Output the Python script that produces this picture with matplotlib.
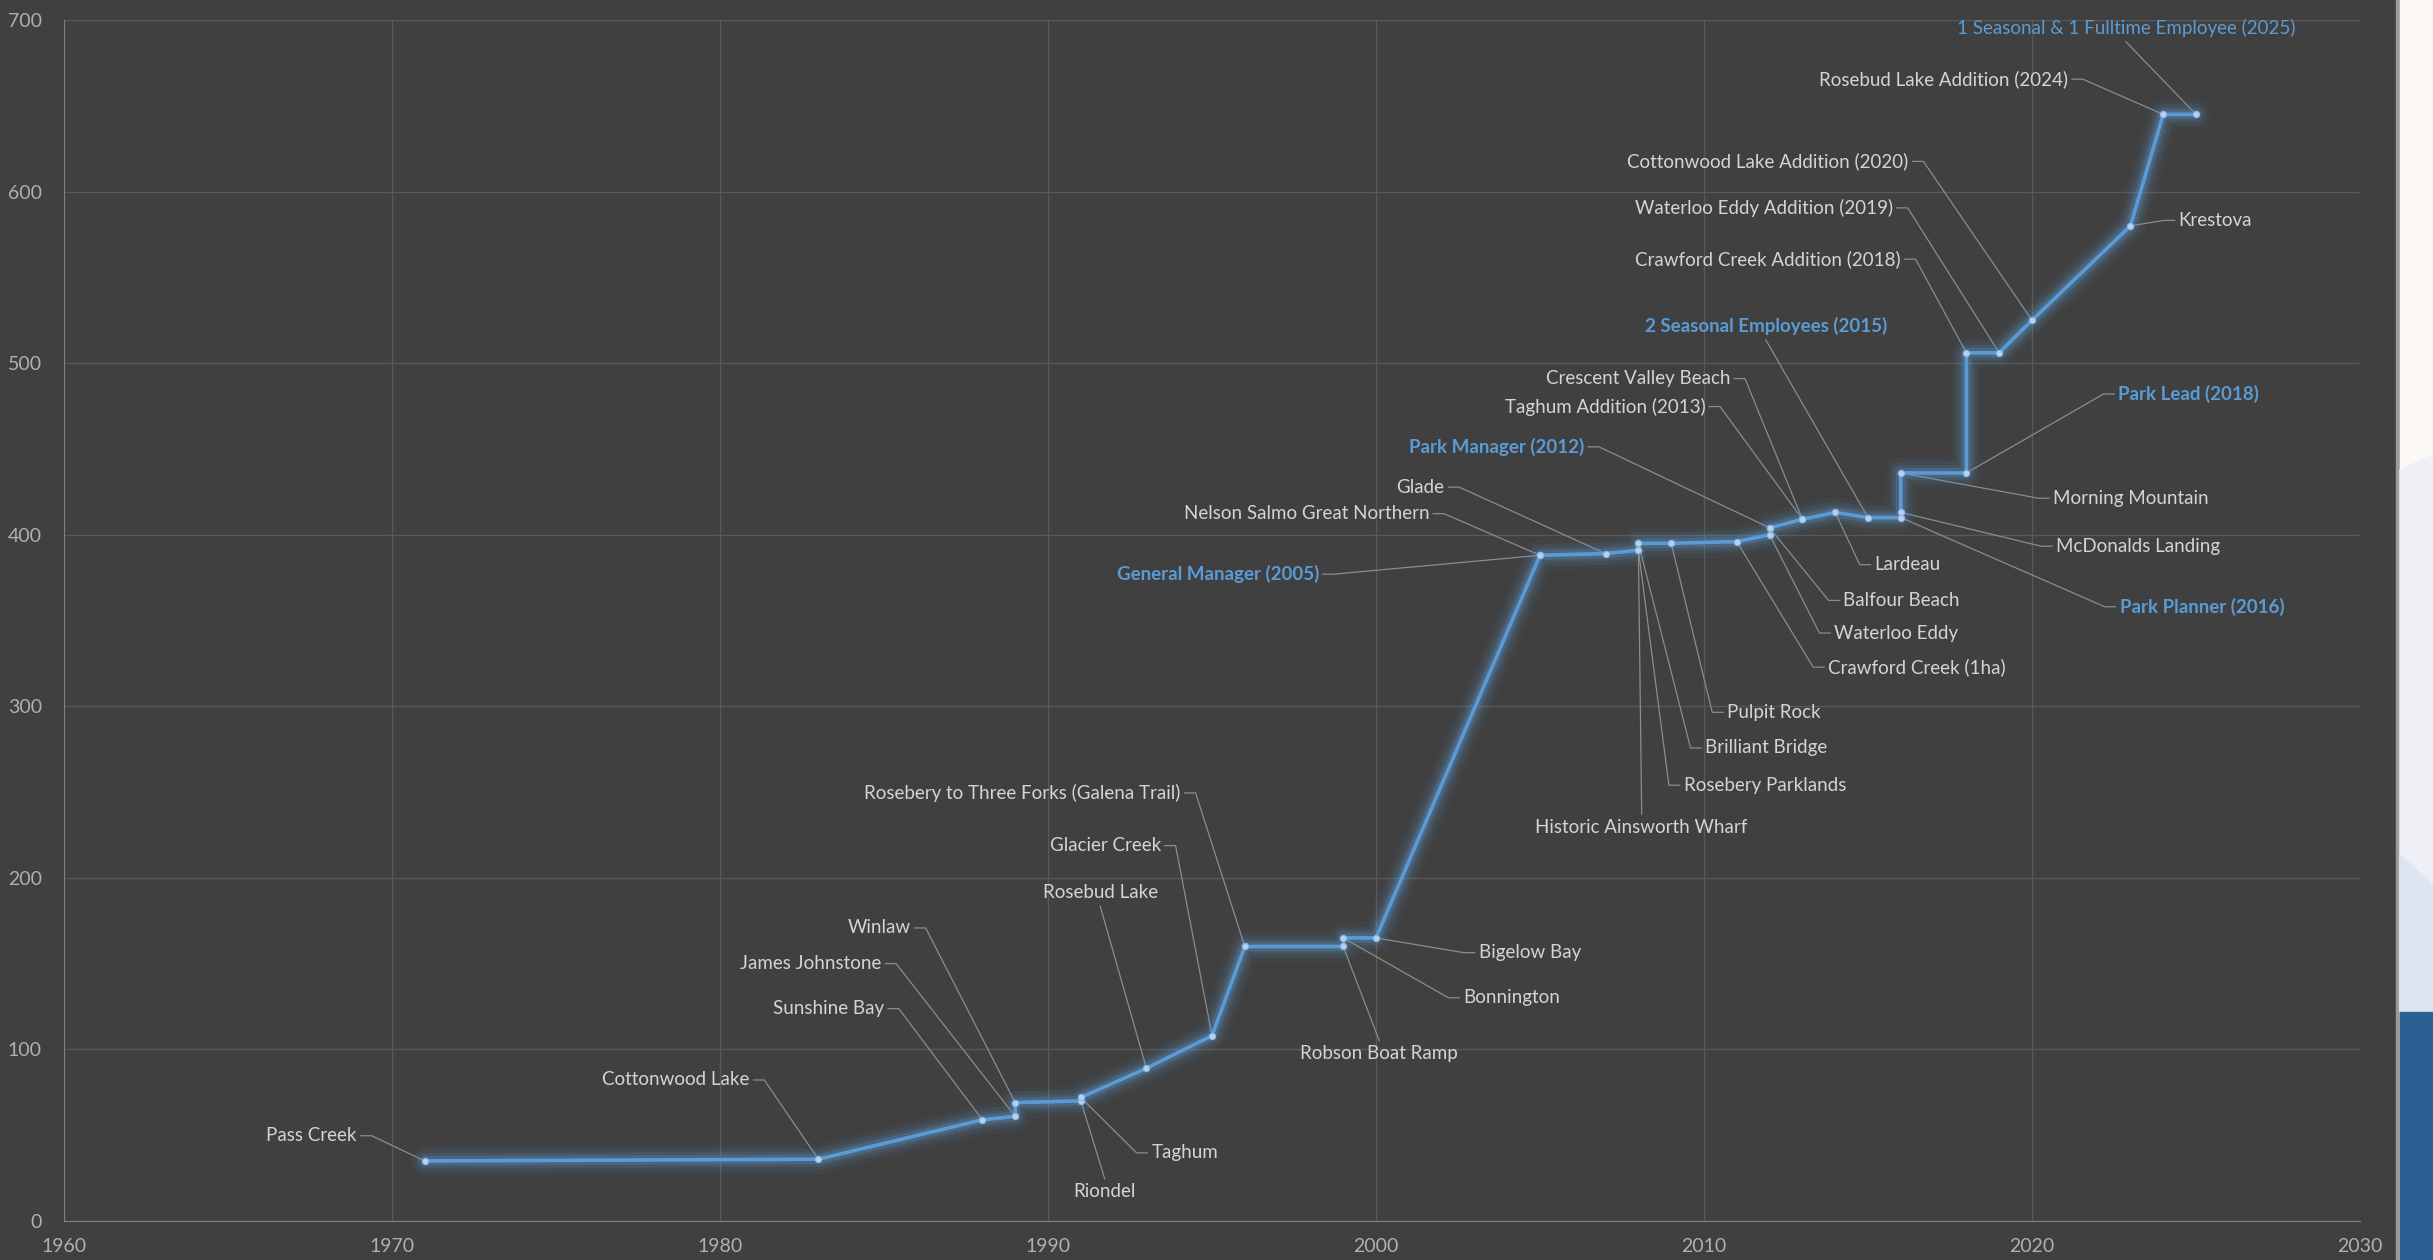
import matplotlib.pyplot as plt
from matplotlib.patches import Rectangle, Polygon

# Park additions and staff milestones (year, cumulative value)
years = [1971, 1983, 1988, 1989, 1989, 1991, 1991, 1993, 1995, 1996,
         1999, 1999, 2000, 2005, 2005, 2007, 2008, 2008, 2008, 2009,
         2011, 2012, 2012, 2012, 2013, 2013, 2014, 2015, 2016, 2016,
         2016, 2018, 2018, 2019, 2020, 2023, 2024, 2025]
values = [35, 36, 59, 61, 69, 70, 72, 89, 108, 160,
          160, 165, 165, 388, 388, 389, 391, 391, 395, 395,
          396, 400, 404, 404, 409, 409, 413, 410, 410, 413,
          436, 436, 506, 506, 525, 580, 645, 645]
labels = ["Pass Creek", "Cottonwood Lake", "Sunshine Bay", "James Johnstone", "Winlaw",
          "Riondel", "Taghum", "Rosebud Lake", "Glacier Creek",
          "Rosebery to Three Forks (Galena Trail)",
          "Robson Boat Ramp", "Bonnington", "Bigelow Bay", "General Manager (2005)",
          "Nelson Salmo Great Northern", "Glade", "Historic Ainsworth Wharf",
          "Rosebery Parklands", "Brilliant Bridge", "Pulpit Rock",
          "Crawford Creek (1ha)", "Waterloo Eddy", "Balfour Beach", "Park Manager (2012)",
          "Taghum Addition (2013)", "Crescent Valley Beach", "Lardeau",
          "2 Seasonal Employees (2015)", "Park Planner (2016)", "McDonalds Landing",
          "Morning Mountain", "Park Lead (2018)", "Crawford Creek Addition (2018)",
          "Waterloo Eddy Addition (2019)", "Cottonwood Lake Addition (2020)", "Krestova",
          "Rosebud Lake Addition (2024)", "1 Seasonal & 1 Fulltime Employee (2025)"]
staff = ["General Manager (2005)", "Park Manager (2012)", "2 Seasonal Employees (2015)",
         "Park Planner (2016)", "Park Lead (2018)", "1 Seasonal & 1 Fulltime Employee (2025)"]

# label placement (data coords) and side of the leader: L = text left of point, R = right, A = above, B = below
label_x = [1968.93, 1980.9, 1985.0, 1984.92, 1985.82, 1991.73, 1993.15, 1991.59, 1993.44, 1994.05,
           2000.1, 2002.66, 2003.13, 1998.26, 2001.62, 2002.09, 2008.1, 2009.38, 2010.04, 2010.7,
           2013.78, 2013.97, 2014.25, 2006.35, 2010.04, 2010.8, 2015.2, 2011.88, 2022.67, 2020.73,
           2020.64, 2022.63, 2016.0, 2015.76, 2016.24, 2024.47, 2021.1, 2022.86]
label_y = [49.7, 82.2, 123.8, 150.0, 170.8, 17.1, 39.7, 191.6, 218.8, 249.5,
           97.6, 130.1, 156.4, 377, 412.3, 427.7, 229.6, 254, 275.7, 296.5,
           322.8, 342.7, 361.7, 451.2, 474.7, 491, 382.5, 521.7, 358, 393.3,
           421.3, 482, 560.6, 590.5, 617.6, 583.2, 665.5, 695.4]
label_side = ["L", "L", "L", "L", "L", "B", "R", "A", "L", "L",
              "B", "R", "R", "L", "L", "L", "B", "R", "R", "R",
              "R", "R", "R", "L", "L", "L", "R", "A", "R", "R",
              "R", "R", "L", "L", "L", "R", "L", "A"]

x_ticks = [1960, 1970, 1980, 1990, 2000, 2010, 2020, 2030]
y_ticks = [0, 100, 200, 300, 400, 500, 600, 700]

bg = '#404040'
line_col = '#5B9BD5'
plt.rcParams['font.family'] = ['Lato', 'DejaVu Sans']

fig = plt.figure(figsize=(24.33, 12.6), dpi=100)
fig.patch.set_facecolor(bg)
ax = fig.add_axes([64 / 2433, 1 - 1221 / 1260, (2360 - 64) / 2433, (1221 - 20) / 1260])
ax.set_facecolor(bg)

# slide background strip on the right edge
W, H = 2433, 1260
fig.add_artist(Rectangle((2396 / W, 0), 4 / W, 1, transform=fig.transFigure, color='#9C9C9C', zorder=0))
fig.add_artist(Rectangle((2400 / W, 0), 33 / W, 1, transform=fig.transFigure, color='#FBF8F5', zorder=0))
fig.add_artist(Polygon([(2400 / W, 1 - 470 / H), (1, 1 - 455 / H), (1, 1 - 1012 / H), (2400 / W, 1 - 1012 / H)],
                       closed=True, transform=fig.transFigure, color='#EEF0F5', zorder=0))
fig.add_artist(Polygon([(2400 / W, 1 - 855 / H), (1, 1 - 885 / H), (1, 1 - 1012 / H), (2400 / W, 1 - 1012 / H)],
                       closed=True, transform=fig.transFigure, color='#DCE6F0', zorder=0))
fig.add_artist(Rectangle((2400 / W, 0), 33 / W, 1 - 1012 / H, transform=fig.transFigure, color='#2C5F92', zorder=0))

# glow behind the line
for lw, a in [(22, 0.05), (16, 0.09), (11, 0.14), (7, 0.24)]:
    ax.plot(years, values, color=line_col, linewidth=lw, alpha=a, solid_capstyle='round',
            solid_joinstyle='round', zorder=3)
ax.plot(years, values, color=line_col, linewidth=2.6, marker='o', markersize=4.5,
        markerfacecolor='#B8D2EE', markeredgecolor='#8DB4E2', markeredgewidth=0.8, zorder=4)

# data labels with leader lines
for i, txt in enumerate(labels):
    px, py = years[i], values[i]
    lx, ly, side = label_x[i], label_y[i], label_side[i]
    is_staff = txt in staff
    col = line_col if is_staff else '#D4D4D4'
    weight = 'bold' if is_staff and not txt.startswith('1 Seasonal') else 'normal'
    if side == 'L':
        ha = 'right'
        pts = [(lx + 0.12, ly), (lx + 0.45, ly), (px, py)]
    elif side == 'R':
        ha = 'left'
        pts = [(lx - 0.12, ly), (lx - 0.45, ly), (px, py)]
    elif side == 'A':
        ha = 'center'
        pts = [(lx, ly - 8), (px, py)]
    else:
        ha = 'center'
        pts = [(lx, ly + 7.5), (px, py)]
    ax.plot([p[0] for p in pts], [p[1] for p in pts], color='#8C8C8C', linewidth=0.9, zorder=2)
    ax.text(lx, ly, txt, ha=ha, va='center', fontsize=13.5, color=col, fontweight=weight, zorder=5)

ax.set_xlim(1960, 2030)
ax.set_ylim(0, 700)
ax.set_xticks(x_ticks)
ax.set_yticks(y_ticks)
ax.grid(True, color='#595959', linewidth=1)
ax.set_axisbelow(True)
for s in ['top', 'right']:
    ax.spines[s].set_visible(False)
for s in ['left', 'bottom']:
    ax.spines[s].set_color('#808080')
ax.tick_params(length=0, labelsize=14, colors='#B0B0B0')
ax.tick_params(axis='y', pad=16)
ax.tick_params(axis='x', pad=12)

plt.savefig('out.png', dpi=100, facecolor=fig.get_facecolor())
